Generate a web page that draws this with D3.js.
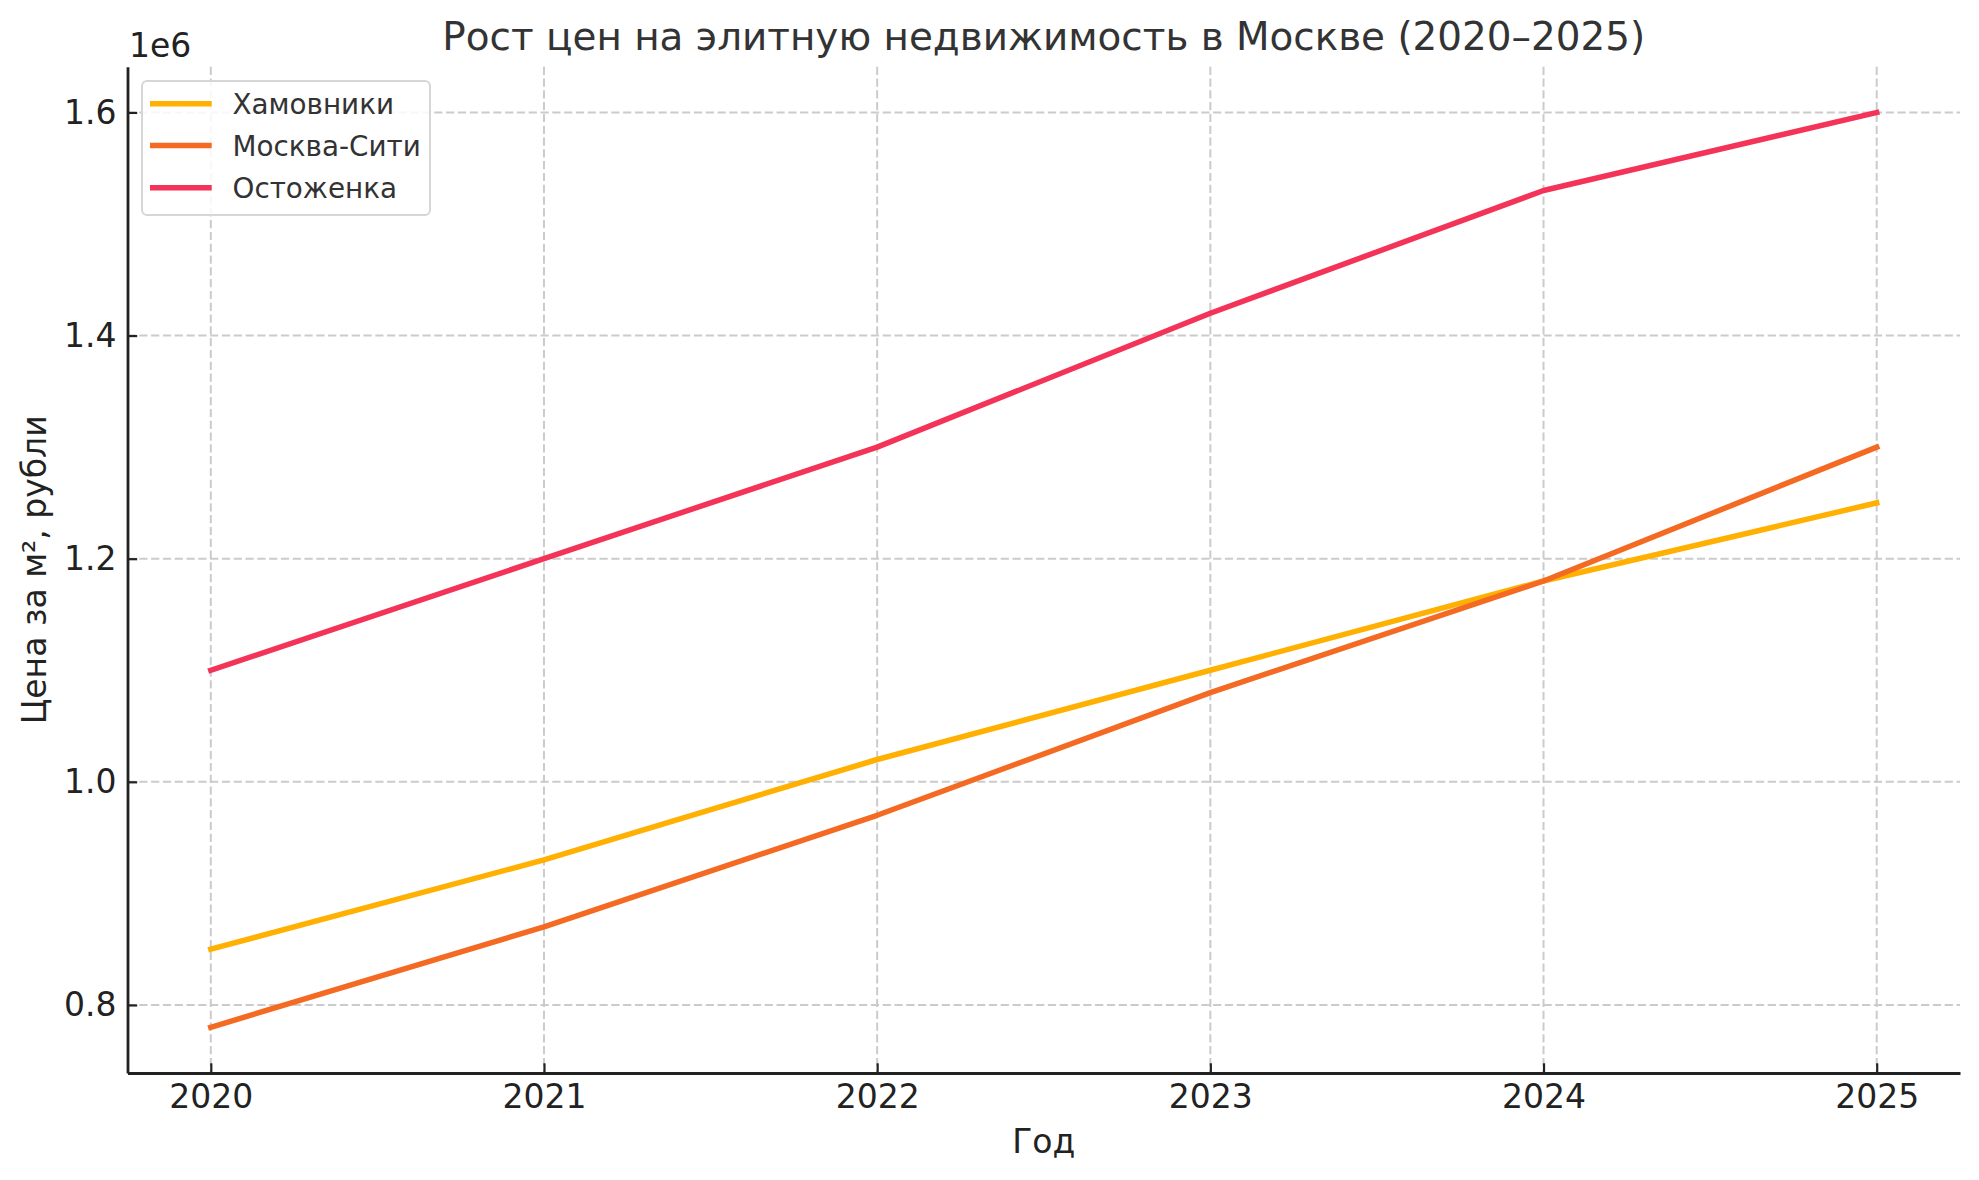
<!DOCTYPE html>
<html>
<head>
<meta charset="utf-8">
<script src="https://cdn.jsdelivr.net/npm/d3@7"></script>
<style>
html, body { margin: 0; padding: 0; background: #fff; }
svg { display: block; font-family: "DejaVu Sans", sans-serif; }
</style>
</head>
<body>
<svg id="chart" width="1979" height="1180"></svg>
<script>
// ---- data ----
const years = [2020, 2021, 2022, 2023, 2024, 2025];
const khamovniki = [850000, 930000, 1020000, 1100000, 1180000, 1250000];
const moscowCity = [780000, 870000, 970000, 1080000, 1180000, 1300000];
const ostozhenka = [1100000, 1200000, 1300000, 1420000, 1530000, 1600000];
const seriesNames = ["Хамовники", "Москва-Сити", "Остоженка"];
const seriesColors = ["#FFB000", "#F46A23", "#F43358"];
const yTicks = [0.8e6, 1.0e6, 1.2e6, 1.4e6, 1.6e6];
const titleText = "Рост цен на элитную недвижимость в Москве (2020–2025)";
const xLabelText = "Год";
const yLabelText = "Цена за м², рубли";

const series = [khamovniki, moscowCity, ostozhenka];

const svg = d3.select("#chart");
const margin = { left: 127.5, right: 1960, top: 66.7, bottom: 1073 };

const allVals = series.flat();
const yMin = d3.min(allVals), yMax = d3.max(allVals);
const yPad = (yMax - yMin) * 0.05;
const x = d3.scaleLinear().domain([2019.75, 2025.25]).range([margin.left, margin.right]);
const y = d3.scaleLinear().domain([yMin - yPad, yMax + yPad]).range([margin.bottom, margin.top]);

// grid
const grid = svg.append("g");
grid.selectAll("line.vg").data(years).join("line")
  .attr("x1", d => x(d)).attr("x2", d => x(d))
  .attr("y1", margin.top).attr("y2", margin.bottom)
  .attr("stroke", "#cbcbcb").attr("stroke-width", 2).attr("stroke-dasharray", "8.2,3.6");
grid.selectAll("line.hg").data(yTicks).join("line")
  .attr("x1", margin.left).attr("x2", margin.right)
  .attr("y1", d => y(d)).attr("y2", d => y(d))
  .attr("stroke", "#cbcbcb").attr("stroke-width", 2).attr("stroke-dasharray", "8.2,3.6");

// lines
const line = d3.line().x((d, i) => x(years[i])).y(d => y(d));
series.forEach((s, k) => {
  svg.append("path").datum(s)
    .attr("d", line)
    .attr("fill", "none")
    .attr("stroke", seriesColors[k])
    .attr("stroke-width", 5.5)
    .attr("stroke-linecap", "square")
    .attr("stroke-linejoin", "round");
});

// axes
const xAxis = d3.axisBottom(x).tickValues(years).tickFormat(d3.format("d"))
  .tickSizeInner(-9.7).tickSizeOuter(0).tickPadding(12);
const gx = svg.append("g").attr("transform", `translate(0,${margin.bottom})`).call(xAxis);
gx.select(".domain").attr("stroke", "#222").attr("stroke-width", 2.8);
gx.selectAll(".tick line").attr("stroke", "#222").attr("stroke-width", 2.2);
gx.selectAll(".tick text").attr("fill", "#222").style("font-size", "33px")
  .style("font-family", "'DejaVu Sans', sans-serif");

const yAxis = d3.axisLeft(y).tickValues(yTicks).tickFormat(d => (d / 1e6).toFixed(1))
  .tickSizeInner(-9.7).tickSizeOuter(0).tickPadding(11);
const gy = svg.append("g").attr("transform", `translate(${margin.left},0)`).call(yAxis);
gy.select(".domain").attr("stroke", "#222").attr("stroke-width", 2.8);
gy.selectAll(".tick line").attr("stroke", "#222").attr("stroke-width", 2.2);
gy.selectAll(".tick text").attr("fill", "#222").style("font-size", "33px")
  .style("font-family", "'DejaVu Sans', sans-serif");

// offset text
svg.append("text").attr("x", 129).attr("y", 57).attr("fill", "#222")
  .style("font-size", "33px").text("1e6");

// title
svg.append("text").attr("x", (margin.left + margin.right) / 2).attr("y", 50)
  .attr("text-anchor", "middle").attr("fill", "#333").style("font-size", "38.9px").text(titleText);

// axis labels
svg.append("text").attr("x", (margin.left + margin.right) / 2).attr("y", 1153)
  .attr("text-anchor", "middle").attr("fill", "#222").style("font-size", "33px").text(xLabelText);
svg.append("text")
  .attr("transform", `translate(46,${(margin.top + margin.bottom) / 2}) rotate(-90)`)
  .attr("text-anchor", "middle").attr("fill", "#222").style("font-size", "33px").text(yLabelText);

// legend
const lg = svg.append("g");
lg.append("rect").attr("x", 142).attr("y", 81).attr("width", 288).attr("height", 134)
  .attr("rx", 5).attr("fill", "#fff").attr("fill-opacity", 0.85)
  .attr("stroke", "#d6d6d6").attr("stroke-width", 2);
const rowY = [103.7, 145.5, 187.7];
seriesNames.forEach((n, k) => {
  lg.append("line").attr("x1", 150).attr("x2", 211.7).attr("y1", rowY[k]).attr("y2", rowY[k])
    .attr("stroke", seriesColors[k]).attr("stroke-width", 5.5);
  lg.append("text").attr("x", 232.5).attr("y", rowY[k] + 10).attr("fill", "#333")
    .style("font-size", "27.8px").text(n);
});
</script>
</body>
</html>
